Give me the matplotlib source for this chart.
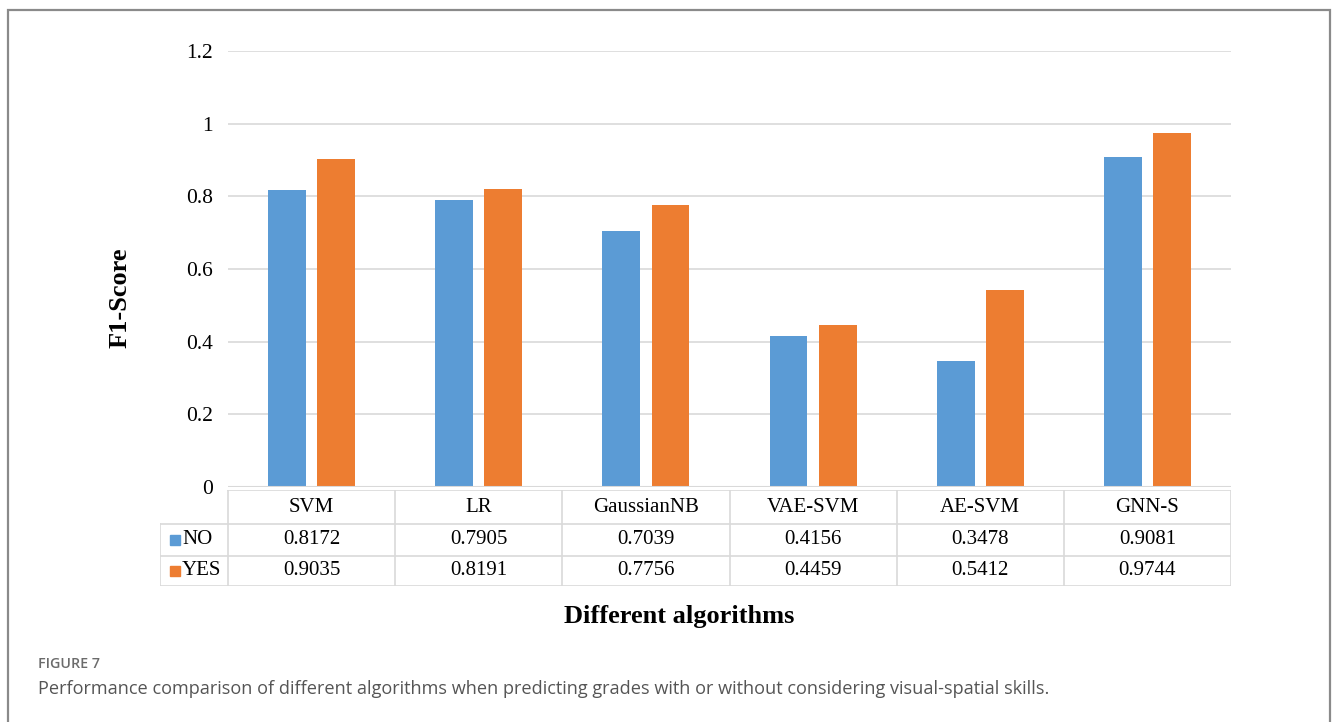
import numpy as np
import matplotlib
matplotlib.use('Agg')
from matplotlib import pyplot as plt
from matplotlib.patches import Rectangle
from matplotlib.lines import Line2D

algoritmos = ['SVM', 'LR', 'GaussianNB', 'VAE-SVM', 'AE-SVM', 'GNN-S']
f1_no = [0.8172, 0.7905, 0.7039, 0.4156, 0.3478, 0.9081]
f1_yes = [0.9035, 0.8191, 0.7756, 0.4459, 0.5412, 0.9744]
series = ['NO', 'YES']
yticks = [0, 0.2, 0.4, 0.6, 0.8, 1, 1.2]
ytick_labels = ['0', '0.2', '0.4', '0.6', '0.8', '1', '1.2']

azul = '#5b9bd5'
laranja = '#ed7d31'
grade = '#d9d9d9'
W, H = 1336, 722

def fx(px):
    return px / W

def fy(py):
    return 1 - py / H

fig = plt.figure(figsize=(13.36, 7.22), dpi=100)
serif = 'Liberation Serif'

# moldura da figura
fig.patches.append(Rectangle((fx(8), fy(740)), fx(1330) - fx(8), fy(10) - fy(740),
                             transform=fig.transFigure, fill=False,
                             edgecolor='#8a8a8a', linewidth=1.6))

ax = fig.add_axes([fx(228), fy(487), fx(1231) - fx(228), fy(51) - fy(487)])
x = np.arange(len(algoritmos))
largura = 0.226
ax.bar(x - 0.147, f1_no, largura, color=azul, zorder=3)
ax.bar(x + 0.147, f1_yes, largura, color=laranja, zorder=3)
ax.set_xlim(-0.5, len(algoritmos) - 0.5)
ax.set_ylim(0, 1.2)
ax.set_yticks(yticks)
ax.set_yticklabels(ytick_labels, fontfamily=serif, fontsize=15.5)
ax.tick_params(axis='y', length=0, pad=11)
ax.set_xticks([])
ax.grid(axis='y', color=grade, linewidth=1.2, zorder=0)
for s in ['top', 'right', 'left', 'bottom']:
    ax.spines[s].set_visible(False)
ax.axhline(0, color=grade, linewidth=1.5, zorder=4)

# tabela de dados abaixo do gráfico
tab = fig.add_axes([fx(160), fy(586), fx(1231) - fx(160), fy(490) - fy(586)])
tab.set_xlim(160, 1231)
tab.set_ylim(586, 490)
tab.axis('off')
x0, x1 = 228, 1231
col = (x1 - x0) / len(algoritmos)
linhas_y = [490, 524, 556, 586]
kw = dict(color=grade, linewidth=1.2)
tab.add_line(Line2D([x0, x1], [490, 490], **kw))
for yy in linhas_y[1:]:
    tab.add_line(Line2D([160, x1], [yy, yy], **kw))
tab.add_line(Line2D([160, 160], [524, 586], **kw))
for i in range(len(algoritmos) + 1):
    xx = x0 + i * col
    tab.add_line(Line2D([xx, xx], [490, 586], **kw))

for i, nome in enumerate(algoritmos):
    cx = x0 + (i + 0.5) * col
    tab.text(cx, 508, nome, ha='center', va='center', fontfamily=serif, fontsize=15)
    tab.text(cx, 540, f'{f1_no[i]:.4f}', ha='center', va='center', fontfamily=serif, fontsize=15)
    tab.text(cx, 571, f'{f1_yes[i]:.4f}', ha='center', va='center', fontfamily=serif, fontsize=15)

for yy, nome, cor in [(540, series[0], azul), (571, series[1], laranja)]:
    tab.add_patch(Rectangle((170, yy - 5), 10, 10, color=cor))
    tab.text(182, yy, nome, ha='left', va='center', fontfamily=serif, fontsize=15)

fig.text(fx(120), fy(298), 'F1-Score', rotation=90, ha='center', va='center',
         fontfamily=serif, fontweight='bold', fontsize=19)
fig.text(fx(679), fy(617), 'Different algorithms', ha='center', va='center',
         fontfamily=serif, fontweight='bold', fontsize=19)

fig.text(fx(38), fy(664), 'FIGURE 7', ha='left', va='center',
         fontfamily='Open Sans', fontweight='semibold', fontsize=10.3, color='#6b6b6b')
fig.text(fx(38), fy(689),
         'Performance comparison of different algorithms when predicting grades with or without considering visual-spatial skills.',
         ha='left', va='center', fontfamily='Open Sans', fontsize=13.1, color='#555555')

plt.savefig('out.png', dpi=100)
